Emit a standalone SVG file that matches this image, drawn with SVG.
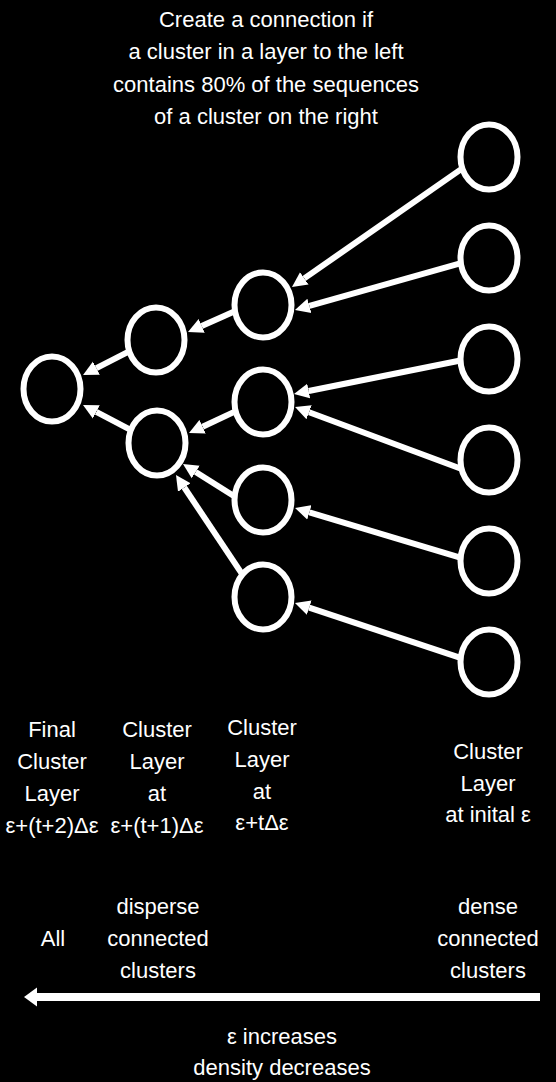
<svg xmlns="http://www.w3.org/2000/svg" width="556" height="1082" viewBox="0 0 556 1082">
<style>
.bg{fill:#000}
.node{fill:#000;stroke:#fff;stroke-width:6}
.edge{stroke:#fff;stroke-width:6;fill:none;stroke-linecap:butt}
.axis{stroke:#fff;stroke-width:8;fill:none}
text{font-family:"Liberation Sans",Arial,sans-serif;font-size:22px;fill:#fff;text-anchor:middle}
</style>
<defs>
<marker id="ah" markerUnits="userSpaceOnUse" markerWidth="16" markerHeight="16" viewBox="0 -8 16 16" refX="0" refY="0" orient="auto">
<path d="M0,-7.5 L15,0 L0,7.5 z" fill="#fff"/>
</marker>
<marker id="bigah" markerUnits="userSpaceOnUse" markerWidth="14" markerHeight="20" viewBox="0 -10 14 20" refX="0" refY="0" orient="auto">
<path d="M0,-9.5 L13,0 L0,9.5 z" fill="#fff"/>
</marker>
</defs>
<rect class="bg" x="0" y="0" width="556" height="1082"/>
<g id="title">
<text x="266" y="27">Create a connection if</text>
<text x="266" y="59">a cluster in a layer to the left</text>
<text x="266" y="92">contains 80% of the sequences</text>
<text x="266" y="124">of a cluster on the right</text>
</g>
<g id="connectors">
<line class="edge" x1="464.1" y1="167.1" x2="304.3" y2="278.4" marker-end="url(#ah)"/>
<line class="edge" x1="462.8" y1="262.6" x2="309.4" y2="305.9" marker-end="url(#ah)"/>
<line class="edge" x1="462.9" y1="360" x2="308.7" y2="391" marker-end="url(#ah)"/>
<line class="edge" x1="463.7" y1="469.7" x2="309.1" y2="412.2" marker-end="url(#ah)"/>
<line class="edge" x1="462.8" y1="558.4" x2="309.4" y2="512.3" marker-end="url(#ah)"/>
<line class="edge" x1="462.7" y1="658.6" x2="309.2" y2="607.7" marker-end="url(#ah)"/>
<line class="edge" x1="237.6" y1="310" x2="201.7" y2="325.9" marker-end="url(#ah)"/>
<line class="edge" x1="238.5" y1="409.9" x2="202.6" y2="426.7" marker-end="url(#ah)"/>
<line class="edge" x1="238.2" y1="498.7" x2="195.7" y2="472" marker-end="url(#ah)"/>
<line class="edge" x1="242.8" y1="575.2" x2="184.3" y2="487.5" marker-end="url(#ah)"/>
<line class="edge" x1="132.5" y1="349.7" x2="96.4" y2="368.2" marker-end="url(#ah)"/>
<line class="edge" x1="133.4" y1="431.3" x2="96.3" y2="411.9" marker-end="url(#ah)"/>
</g>
<g id="n-final"><ellipse class="node" cx="52" cy="389" rx="28.5" ry="32.5"/></g>
<g id="n-l1a"><ellipse class="node" cx="156" cy="340" rx="28.5" ry="32.5"/></g>
<g id="n-l1b"><ellipse class="node" cx="157" cy="443" rx="28.5" ry="32.5"/></g>
<g id="n-l2a"><ellipse class="node" cx="263" cy="305" rx="28.5" ry="32.5"/></g>
<g id="n-l2b"><ellipse class="node" cx="263" cy="402" rx="28.5" ry="32.5"/></g>
<g id="n-l2c"><ellipse class="node" cx="263" cy="500" rx="28.5" ry="32.5"/></g>
<g id="n-l2d"><ellipse class="node" cx="263" cy="597" rx="28.5" ry="32.5"/></g>
<g id="n-r1"><ellipse class="node" cx="489" cy="157" rx="28.5" ry="32.5"/></g>
<g id="n-r2"><ellipse class="node" cx="489" cy="258" rx="28.5" ry="32.5"/></g>
<g id="n-r3"><ellipse class="node" cx="489" cy="359" rx="28.5" ry="32.5"/></g>
<g id="n-r4"><ellipse class="node" cx="489" cy="460" rx="28.5" ry="32.5"/></g>
<g id="n-r5"><ellipse class="node" cx="489" cy="561" rx="28.5" ry="32.5"/></g>
<g id="n-r6"><ellipse class="node" cx="489" cy="662" rx="28.5" ry="32.5"/></g>
<g id="labels">
<text x="52" y="737">Final</text>
<text x="52" y="769">Cluster</text>
<text x="52" y="801">Layer</text>
<text x="52" y="833">ε+(t+2)Δε</text>
<text x="157" y="737">Cluster</text>
<text x="157" y="769">Layer</text>
<text x="157" y="801">at</text>
<text x="157" y="833">ε+(t+1)Δε</text>
<text x="262" y="735">Cluster</text>
<text x="262" y="767">Layer</text>
<text x="262" y="799">at</text>
<text x="262" y="830">ε+tΔε</text>
<text x="488" y="759">Cluster</text>
<text x="488" y="791">Layer</text>
<text x="488" y="822">at inital ε</text>
<text x="53" y="946">All</text>
<text x="158" y="914">disperse</text>
<text x="158" y="946">connected</text>
<text x="158" y="978">clusters</text>
<text x="488" y="914">dense</text>
<text x="488" y="946">connected</text>
<text x="488" y="978">clusters</text>
</g>
<g id="axis">
<line class="axis" x1="540" y1="997" x2="37" y2="997" marker-end="url(#bigah)"/>
<text x="282" y="1044">ε increases</text>
<text x="282" y="1075">density decreases</text>
</g>
</svg>
